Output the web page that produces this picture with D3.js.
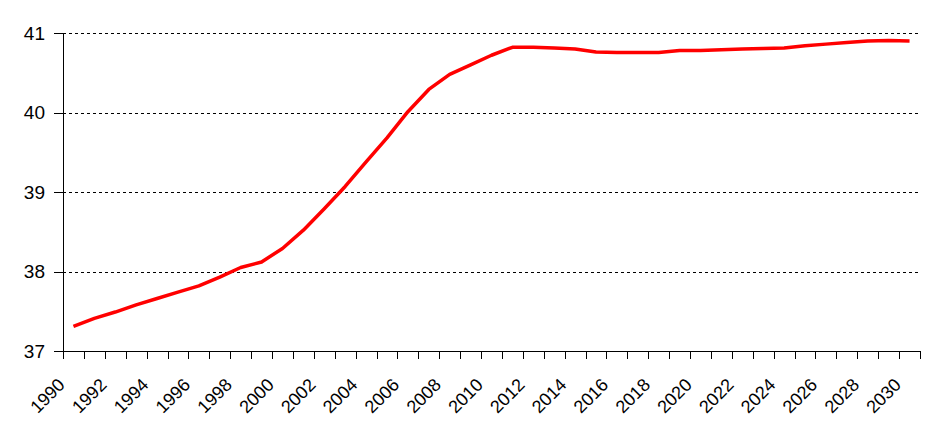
<!DOCTYPE html>
<html><head><meta charset="utf-8">
<script src="https://cdn.jsdelivr.net/npm/d3@7"></script>
<style>body{margin:0;background:#fff}svg{display:block}text{font-family:"Liberation Sans",Arial,sans-serif;fill:#000}</style>
</head><body>
<svg id="c" width="936" height="441"></svg>
<script>
const years = d3.range(1990, 2031);
const values = [37.31,37.41,37.49,37.58,37.66,37.74,37.82,37.93,38.05,38.12,
  38.29,38.52,38.79,39.07,39.38,39.68,40.01,40.29,40.48,40.60,
  40.72,40.82,40.82,40.81,40.80,40.76,40.755,40.755,40.755,40.78,
  40.78,40.79,40.80,40.805,40.81,40.84,40.86,40.88,40.90,40.905,40.90];
const yTicks = [37,38,39,40,41];
const xLabelYears = years.filter(y => (y - 1990) % 2 === 0);

const svg = d3.select("#c");
const L = 63, R = 920, T = 33, B = 351;
const x = d3.scaleBand().domain(years).range([L, R]).padding(0);
const y = d3.scaleLinear().domain([37, 41]).range([B, T]);
const cx = d => x(d) + x.bandwidth() / 2;

// gridlines
svg.append("g").selectAll("line").data(yTicks.filter(t => t > 37)).join("line")
  .attr("x1", L).attr("x2", R - 2).attr("y1", d => Math.round(y(d)) + 0.5).attr("y2", d => Math.round(y(d)) + 0.5)
  .attr("stroke", "#000").attr("stroke-width", 1).attr("stroke-dasharray", "3,3");

// y axis
const ya = svg.append("g");
ya.append("line").attr("x1", L + 0.5).attr("x2", L + 0.5).attr("y1", T).attr("y2", B + 0.5).attr("stroke", "#000");
ya.selectAll("line.t").data(yTicks).join("line").attr("class", "t")
  .attr("x1", L - 9).attr("x2", L).attr("y1", d => Math.round(y(d)) + 0.5).attr("y2", d => Math.round(y(d)) + 0.5).attr("stroke", "#000");
ya.selectAll("text").data(yTicks).join("text")
  .attr("x", 45).attr("y", d => y(d)).attr("dy", "0.35em").attr("text-anchor", "end")
  .style("font-size", "19px").text(d => d);

// x axis
const xa = svg.append("g");
xa.append("line").attr("x1", L).attr("x2", R + 1).attr("y1", B + 0.5).attr("y2", B + 0.5).attr("stroke", "#000");
const bounds = years.map(d => x(d)).concat([R]);
xa.selectAll("line.t").data(bounds).join("line").attr("class", "t")
  .attr("x1", d => Math.round(d) + 0.5).attr("x2", d => Math.round(d) + 0.5).attr("y1", B).attr("y2", B + 8).attr("stroke", "#000");
xa.selectAll("text").data(xLabelYears).join("text")
  .attr("transform", d => `translate(${cx(d) - 7.5},${B + 35}) rotate(-45)`)
  .attr("text-anchor", "end")
  .style("font-size", "18px").text(d => d);

// line
const line = d3.line().x((d, i) => cx(years[i])).y(d => y(d));
svg.append("path").datum(values).attr("d", line)
  .attr("fill", "none").attr("stroke", "#ff0000").attr("stroke-width", 3.5).attr("stroke-linejoin", "round");
</script>
</body></html>
